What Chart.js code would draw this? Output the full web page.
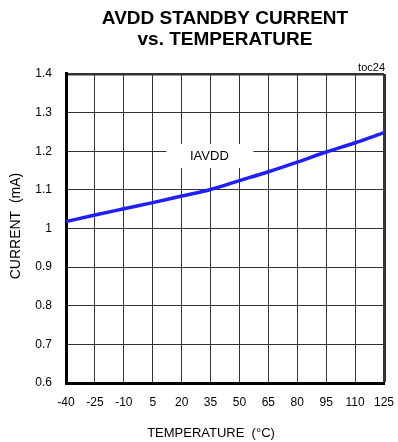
<!DOCTYPE html>
<html lang="en">
<head>
  <meta charset="UTF-8">
  <title>AVDD Standby Current vs. Temperature</title>
  <script src="https://cdn.jsdelivr.net/npm/chart.js"></script>
  <style>
    body {
      margin: 0;
      background: #fff;
    }
    #wrap {
      width: 398px;
      height: 442px;
    }
  </style>
</head>
<body>
  <div id="wrap">
    <canvas id="graph" width="398" height="442"></canvas>
  </div>

  <script>
    // Data
    const temperatures = [-40, -25, -10, 5, 20, 35, 50, 65, 80, 95, 110, 125];
    const iavdd = [1.018, 1.035, 1.051, 1.067, 1.084, 1.101, 1.124, 1.147, 1.172, 1.198, 1.222, 1.248];
    const titleLines = ['AVDD STANDBY CURRENT', 'vs. TEMPERATURE'];
    const xAxisTitle = 'TEMPERATURE  (°C)';
    const yAxisTitle = 'CURRENT  (mA)';
    const seriesLabel = 'IAVDD';
    const tocLabel = 'toc24';

    const FONT = '"Liberation Sans", Arial, sans-serif';
    Chart.defaults.font.family = FONT;
    Chart.defaults.color = '#000';

    // Extra text: axis titles, curve label and toc tag
    const textPlugin = {
      id: 'extraText',
      beforeDatasetsDraw(chart) {
        const { ctx, scales } = chart;
        // curve label with white box over the grid
        const lx = scales.x.getPixelForValue(34.4);
        const ly = scales.y.getPixelForValue(1.1876);
        ctx.save();
        ctx.fillStyle = '#fff';
        ctx.fillRect(lx - 43, ly - 12, 87, 24);
        ctx.fillStyle = '#000';
        ctx.font = '13px ' + FONT;
        ctx.textAlign = 'center';
        ctx.textBaseline = 'middle';
        ctx.fillText(seriesLabel, lx, ly);
        ctx.restore();
      },
      afterDraw(chart) {
        const { ctx, chartArea } = chart;
        ctx.save();
        ctx.fillStyle = '#000';

        ctx.font = '11px ' + FONT;
        ctx.textAlign = 'right';
        ctx.textBaseline = 'alphabetic';
        ctx.fillText(tocLabel, chartArea.right + 1, chartArea.top - 3);

        ctx.font = '13px ' + FONT;
        ctx.textAlign = 'center';
        ctx.textBaseline = 'middle';
        ctx.fillText(xAxisTitle, 211, 433);

        ctx.translate(16, 226);
        ctx.rotate(-Math.PI / 2);
        ctx.font = '14px ' + FONT;
        ctx.fillText(yAxisTitle, 0, 0);
        ctx.restore();
      }
    };

    const chart = new Chart(document.getElementById('graph'), {
      type: 'line',
      data: {
        datasets: [{
          label: seriesLabel,
          data: temperatures.map((t, i) => ({ x: t, y: iavdd[i] })),
          borderColor: '#1f1fff',
          borderWidth: 3.5,
          pointRadius: 0,
          cubicInterpolationMode: 'monotone',
          fill: false
        }]
      },
      options: {
        responsive: false,
        animation: false,
        layout: {
          padding: { left: 0, right: 14, top: 0, bottom: 0 }
        },
        plugins: {
          legend: { display: false },
          tooltip: { enabled: false },
          title: {
            display: true,
            text: titleLines,
            fullSize: false,
            color: '#000',
            font: { size: 19, weight: 'bold', lineHeight: 1.105 },
            padding: { top: 7.8, bottom: 24.2 }
          }
        },
        scales: {
          x: {
            type: 'linear',
            min: -40,
            max: 125,
            afterFit: scale => {
              scale.height = 59;
              scale.paddingLeft = 0;
              scale.paddingRight = 0;
            },
            ticks: {
              stepSize: 15,
              padding: 12,
              font: { size: 12 },
              color: '#000'
            },
            grid: {
              drawTicks: false,
              color: '#333',
              lineWidth: ctx => (ctx.tick && ctx.tick.value === 125 ? 3 : 1)
            },
            border: { display: true, color: '#000', width: 3 }
          },
          y: {
            min: 0.6,
            max: 1.4,
            afterFit: scale => {
              scale.width = 66;
              scale.paddingTop = 0;
              scale.paddingBottom = 0;
            },
            ticks: {
              stepSize: 0.1,
              padding: 14,
              font: { size: 12 },
              color: '#000',
              callback: v => Math.round(v * 10) / 10
            },
            grid: {
              drawTicks: false,
              color: '#333',
              lineWidth: ctx => (ctx.tick && Math.abs(ctx.tick.value - 1.4) < 1e-6 ? 2.5 : 1)
            },
            border: { display: true, color: '#000', width: 3 }
          }
        }
      },
      plugins: [textPlugin]
    });
  </script>
</body>
</html>
